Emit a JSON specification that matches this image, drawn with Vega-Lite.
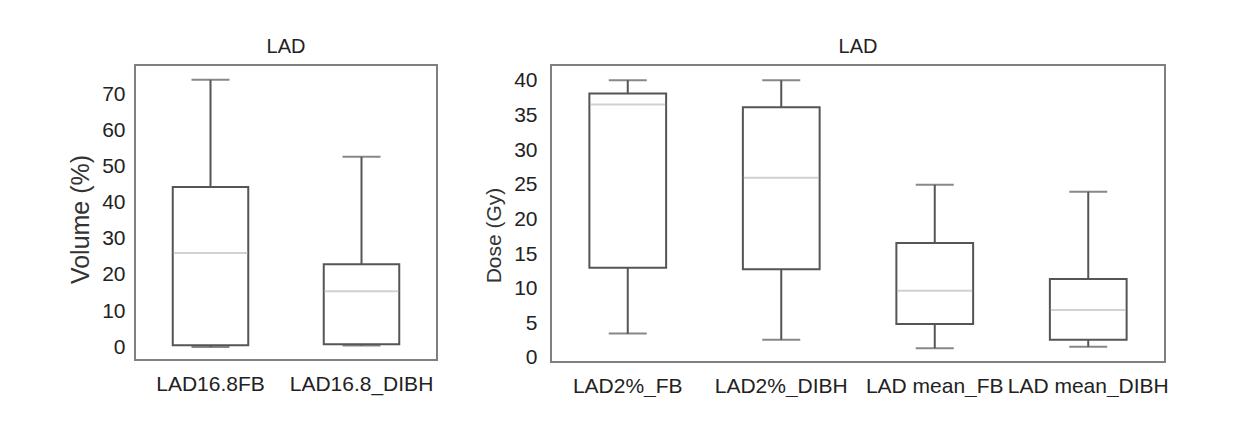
{
  "$schema": "https://vega.github.io/schema/vega-lite/v6.json",
  "padding": {"left": 67, "top": 36, "right": 0, "bottom": 0},
  "background": "white",
  "datasets": {
    "boxes": [
      {"panel": "vol", "cat": "LAD16.8FB", "min": 0, "q1": 0.5, "median": 26.1, "q3": 44.4, "max": 74.2},
      {"panel": "vol", "cat": "LAD16.8_DIBH", "min": 0.4, "q1": 0.8, "median": 15.5, "q3": 23, "max": 52.8},
      {"panel": "dose", "cat": "LAD2%_FB", "min": 3.5, "q1": 13, "median": 36.6, "q3": 38.2, "max": 40.1},
      {"panel": "dose", "cat": "LAD2%_DIBH", "min": 2.6, "q1": 12.8, "median": 26, "q3": 36.2, "max": 40.1},
      {"panel": "dose", "cat": "LAD mean_FB", "min": 1.4, "q1": 4.9, "median": 9.7, "q3": 16.6, "max": 25},
      {"panel": "dose", "cat": "LAD mean_DIBH", "min": 1.6, "q1": 2.6, "median": 6.9, "q3": 11.4, "max": 24}
    ]
  },
  "data": {"name": "boxes"},
  "config": {
    "font": "Liberation Sans",
    "view": {"stroke": "#808080", "strokeWidth": 2},
    "axis": {"domain": false, "ticks": false, "grid": false, "labelColor": "#222", "titleColor": "#333", "labelFontSize": 21, "titleFontWeight": "normal", "labelOverlap": false},
    "axisX": {"labelAngle": 0, "labelPadding": 13, "title": null},
    "title": {"fontSize": 20, "fontWeight": "normal", "color": "#222", "frame": "group", "offset": 8}
  },
  "hconcat": [
    {
      "width": 302,
      "height": 295,
      "title": "LAD",
      "transform": [{"filter": "datum.panel === 'vol'"}],
      "encoding": {
        "x": {"field": "cat", "type": "nominal", "sort": ["LAD16.8FB", "LAD16.8_DIBH"], "scale": {"paddingInner": 0, "paddingOuter": 0}, "axis": {"title": null}}
      },
      "layer": [
        {"mark": {"type": "rule", "color": "#555", "strokeWidth": 2},
         "encoding": {"y": {"field": "min", "type": "quantitative", "scale": {"domain": [-3.6, 78.3], "nice": false, "zero": false}, "axis": {"values": [0, 10, 20, 30, 40, 50, 60, 70], "title": "Volume (%)", "titleFontSize": 25, "labelPadding": 10, "titlePadding": 8, "titleY": 154}}, "y2": {"field": "max"}}},
        {"mark": {"type": "bar", "fill": "white", "stroke": "#555", "strokeWidth": 2, "width": {"band": 0.5}},
         "encoding": {"y": {"field": "q1", "type": "quantitative", "axis": {"values": [0, 10, 20, 30, 40, 50, 60, 70], "title": "Volume (%)", "titleFontSize": 25, "labelPadding": 10, "titlePadding": 8, "titleY": 154}}, "y2": {"field": "q3"}}},
        {"mark": {"type": "tick", "color": "#bdbdbd", "thickness": 2, "size": 74},
         "encoding": {"y": {"field": "median", "type": "quantitative", "axis": {"values": [0, 10, 20, 30, 40, 50, 60, 70], "title": "Volume (%)", "titleFontSize": 25, "labelPadding": 10, "titlePadding": 8, "titleY": 154}}}},
        {"mark": {"type": "tick", "color": "#555", "thickness": 2, "size": 38},
         "encoding": {"y": {"field": "min", "type": "quantitative", "axis": {"values": [0, 10, 20, 30, 40, 50, 60, 70], "title": "Volume (%)", "titleFontSize": 25, "labelPadding": 10, "titlePadding": 8, "titleY": 154}}}},
        {"mark": {"type": "tick", "color": "#555", "thickness": 2, "size": 38},
         "encoding": {"y": {"field": "max", "type": "quantitative", "axis": {"values": [0, 10, 20, 30, 40, 50, 60, 70], "title": "Volume (%)", "titleFontSize": 25, "labelPadding": 10, "titlePadding": 8, "titleY": 154}}}}
      ]
    },
    {
      "width": 614,
      "height": 297,
      "title": "LAD",
      "transform": [{"filter": "datum.panel === 'dose'"}],
      "encoding": {
        "x": {"field": "cat", "type": "nominal", "sort": ["LAD2%_FB", "LAD2%_DIBH", "LAD mean_FB", "LAD mean_DIBH"], "scale": {"paddingInner": 0, "paddingOuter": 0}, "axis": {"title": null}}
      },
      "layer": [
        {"mark": {"type": "rule", "color": "#555", "strokeWidth": 2},
         "encoding": {"y": {"field": "min", "type": "quantitative", "scale": {"domain": [-0.6, 42.3], "nice": false, "zero": false}, "axis": {"values": [0, 5, 10, 15, 20, 25, 30, 35, 40], "title": "Dose (Gy)", "titleFontSize": 21, "labelPadding": 14, "titlePadding": 9, "titleY": 170}}, "y2": {"field": "max"}}},
        {"mark": {"type": "bar", "fill": "white", "stroke": "#555", "strokeWidth": 2, "width": {"band": 0.5}},
         "encoding": {"y": {"field": "q1", "type": "quantitative", "axis": {"values": [0, 5, 10, 15, 20, 25, 30, 35, 40], "title": "Dose (Gy)", "titleFontSize": 21, "labelPadding": 14, "titlePadding": 9, "titleY": 170}}, "y2": {"field": "q3"}}},
        {"mark": {"type": "tick", "color": "#bdbdbd", "thickness": 2, "size": 75},
         "encoding": {"y": {"field": "median", "type": "quantitative", "axis": {"values": [0, 5, 10, 15, 20, 25, 30, 35, 40], "title": "Dose (Gy)", "titleFontSize": 21, "labelPadding": 14, "titlePadding": 9, "titleY": 170}}}},
        {"mark": {"type": "tick", "color": "#555", "thickness": 2, "size": 38},
         "encoding": {"y": {"field": "min", "type": "quantitative", "axis": {"values": [0, 5, 10, 15, 20, 25, 30, 35, 40], "title": "Dose (Gy)", "titleFontSize": 21, "labelPadding": 14, "titlePadding": 9, "titleY": 170}}}},
        {"mark": {"type": "tick", "color": "#555", "thickness": 2, "size": 38},
         "encoding": {"y": {"field": "max", "type": "quantitative", "axis": {"values": [0, 5, 10, 15, 20, 25, 30, 35, 40], "title": "Dose (Gy)", "titleFontSize": 21, "labelPadding": 14, "titlePadding": 9, "titleY": 170}}}}
      ]
    }
  ],
  "spacing": 44
}
